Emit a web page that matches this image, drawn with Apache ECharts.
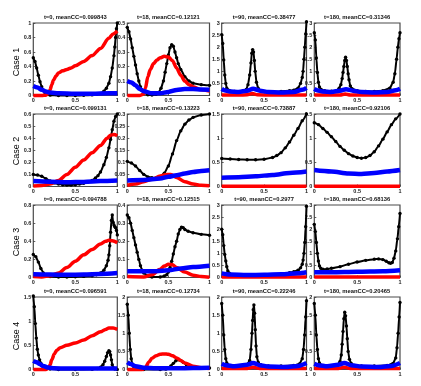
<!DOCTYPE html>
<html><head><meta charset="utf-8">
<script src="https://cdn.jsdelivr.net/npm/echarts@6/dist/echarts.min.js"></script>
<style>html,body{margin:0;padding:0;background:#fff}#c{width:421px;height:386px}</style>
</head><body><div id="c"></div>
<script>
// ---------- DATA ----------
const caseLabels = ['Case 1','Case 2','Case 3','Case 4'];
const panelTitles = [
 't=0, meanCC=0.099843','t=18, meanCC=0.12121','t=90, meanCC=0.38477','t=180, meanCC=0.31346',
 't=0, meanCC=0.099131','t=18, meanCC=0.13223','t=90, meanCC=0.73887','t=180, meanCC=0.92106',
 't=0, meanCC=0.094788','t=18, meanCC=0.12515','t=90, meanCC=0.2977','t=180, meanCC=0.68136',
 't=0, meanCC=0.096591','t=18, meanCC=0.12734','t=90, meanCC=0.22246','t=180, meanCC=0.20465'
];
const yMax =      [1, 0.5, 3, 3,   0.6, 0.3, 1.5, 1.5,  0.8, 0.4, 3, 3,   1.5, 2, 2, 2];
const yInterval = [0.2,0.1,0.5,0.5, 0.1,0.05,0.5,0.5,   0.2,0.1,0.5,0.5, 0.5,0.5,0.5,0.5];
const xTicks = [0, 0.5, 1];

// Case 1
const c1t0Black = [[0,0.52],[0.02,0.47],[0.04,0.38],[0.06,0.28],[0.08,0.19],[0.1,0.12],[0.12,0.07],[0.14,0.035],[0.16,0.015],[0.2,0.005],[0.3,0],[0.4,0],[0.5,0],[0.6,0.002],[0.7,0.008],[0.75,0.015],[0.8,0.03],[0.84,0.06],[0.87,0.1],[0.9,0.17],[0.92,0.26],[0.94,0.38],[0.96,0.55],[0.97,0.67],[0.98,0.8],[0.99,0.92],[1,1.0]];
const c1t0Red = [[0,0],[0.1,0],[0.15,0.005],[0.18,0.03],[0.2,0.08],[0.22,0.15],[0.24,0.21],[0.27,0.27],[0.3,0.31],[0.35,0.34],[0.4,0.36],[0.45,0.38],[0.5,0.41],[0.6,0.47],[0.7,0.55],[0.8,0.65],[0.9,0.79],[0.95,0.85],[1,0.89]];
const c1t0Blue = [[0,0.13],[0.05,0.11],[0.1,0.08],[0.15,0.055],[0.2,0.04],[0.3,0.03],[0.5,0.025],[0.7,0.025],[0.9,0.03],[1,0.03]];

const c1t18Black = [[0,0.47],[0.02,0.44],[0.04,0.39],[0.06,0.33],[0.08,0.27],[0.1,0.21],[0.12,0.15],[0.14,0.1],[0.16,0.06],[0.18,0.035],[0.2,0.02],[0.25,0.005],[0.3,0.003],[0.35,0.008],[0.38,0.02],[0.41,0.05],[0.44,0.1],[0.46,0.16],[0.48,0.22],[0.5,0.28],[0.52,0.33],[0.54,0.35],[0.56,0.34],[0.58,0.3],[0.6,0.26],[0.62,0.22],[0.65,0.18],[0.7,0.13],[0.75,0.1],[0.8,0.085],[0.9,0.075],[1,0.07]];
const c1t18Red = [[0,0],[0.15,0],[0.2,0.01],[0.22,0.05],[0.25,0.13],[0.28,0.18],[0.32,0.22],[0.36,0.245],[0.4,0.26],[0.45,0.27],[0.5,0.265],[0.55,0.24],[0.6,0.19],[0.65,0.14],[0.7,0.1],[0.75,0.075],[0.8,0.06],[0.9,0.04],[1,0.03]];
const c1t18Blue = [[0,0.1],[0.05,0.09],[0.1,0.07],[0.15,0.045],[0.2,0.03],[0.3,0.015],[0.4,0.015],[0.5,0.025],[0.6,0.038],[0.7,0.044],[0.8,0.045],[0.9,0.042],[1,0.04]];

const c1t90Black = [[0,2.52],[0.012,2.15],[0.024,1.47],[0.036,0.85],[0.048,0.5],[0.06,0.3],[0.08,0.22],[0.1,0.19],[0.15,0.17],[0.2,0.16],[0.25,0.17],[0.29,0.25],[0.31,0.45],[0.33,0.85],[0.345,1.35],[0.355,1.75],[0.365,1.9],[0.375,1.8],[0.385,1.45],[0.395,1.0],[0.41,0.55],[0.43,0.3],[0.46,0.2],[0.5,0.16],[0.6,0.15],[0.7,0.17],[0.8,0.2],[0.85,0.22],[0.9,0.3],[0.93,0.5],[0.95,0.75],[0.96,1.0],[0.97,1.5],[0.98,2.0],[0.99,2.55],[1,3.05]];
const c1t90Red = [[0,0.02],[0.2,0.02],[0.3,0.03],[0.36,0.08],[0.42,0.03],[0.6,0.02],[1,0.02]];
const c1t90Blue = [[0,0.27],[0.03,0.22],[0.1,0.17],[0.2,0.15],[0.3,0.2],[0.37,0.28],[0.45,0.2],[0.55,0.14],[0.7,0.12],[0.85,0.14],[0.95,0.24],[1,0.32]];

const c1t180Black = [[0,2.6],[0.012,2.3],[0.024,1.55],[0.036,0.95],[0.048,0.55],[0.06,0.35],[0.08,0.25],[0.12,0.2],[0.2,0.18],[0.26,0.2],[0.29,0.3],[0.31,0.45],[0.325,0.7],[0.335,0.95],[0.345,1.2],[0.355,1.45],[0.365,1.58],[0.375,1.45],[0.385,1.2],[0.395,0.9],[0.405,0.65],[0.42,0.4],[0.44,0.28],[0.5,0.2],[0.6,0.17],[0.7,0.17],[0.8,0.2],[0.88,0.3],[0.92,0.55],[0.94,0.9],[0.96,1.5],[0.975,2.0],[0.988,2.35],[1,2.6]];
const c1t180Red = [[0,0.02],[0.3,0.02],[0.36,0.06],[0.42,0.02],[1,0.02]];
const c1t180Blue = [[0,0.27],[0.03,0.22],[0.1,0.17],[0.2,0.15],[0.3,0.2],[0.37,0.26],[0.45,0.2],[0.55,0.14],[0.7,0.12],[0.85,0.14],[0.95,0.22],[1,0.28]];

// Case 2
const c2t0Black = [[0,0.1],[0.05,0.095],[0.1,0.085],[0.15,0.065],[0.2,0.045],[0.25,0.03],[0.3,0.02],[0.35,0.015],[0.4,0.012],[0.45,0.012],[0.5,0.015],[0.55,0.02],[0.6,0.027],[0.65,0.037],[0.7,0.05],[0.74,0.07],[0.77,0.09],[0.8,0.12],[0.84,0.18],[0.87,0.24],[0.9,0.32],[0.92,0.39],[0.94,0.47],[0.96,0.54],[0.98,0.58],[1,0.6]];
const c2t0Red = [[0,0.005],[0.1,0.008],[0.2,0.02],[0.3,0.05],[0.4,0.1],[0.5,0.16],[0.6,0.22],[0.7,0.28],[0.8,0.34],[0.88,0.4],[0.92,0.425],[0.96,0.43],[1,0.42]];
const c2t0Blue = [[0,0.045],[0.2,0.04],[0.4,0.035],[0.6,0.038],[0.8,0.045],[1,0.05]];

const c2t18Black = [[0,0.104],[0.05,0.097],[0.1,0.085],[0.15,0.066],[0.2,0.05],[0.25,0.04],[0.3,0.036],[0.35,0.035],[0.4,0.04],[0.45,0.055],[0.5,0.085],[0.55,0.135],[0.6,0.19],[0.65,0.23],[0.7,0.258],[0.75,0.275],[0.8,0.286],[0.9,0.296],[1,0.3]];
const c2t18Red = [[0,0.005],[0.1,0.01],[0.2,0.02],[0.3,0.03],[0.4,0.043],[0.48,0.05],[0.53,0.05],[0.6,0.037],[0.7,0.02],[0.8,0.01],[0.9,0.005],[1,0.003]];
const c2t18Blue = [[0,0.025],[0.2,0.027],[0.4,0.033],[0.5,0.04],[0.6,0.047],[0.7,0.054],[0.8,0.06],[0.9,0.064],[1,0.067]];

const c2t90Black = [[0,0.58],[0.1,0.57],[0.2,0.56],[0.3,0.555],[0.4,0.555],[0.5,0.565],[0.6,0.6],[0.65,0.64],[0.7,0.7],[0.75,0.8],[0.8,0.92],[0.85,1.06],[0.9,1.2],[0.95,1.36],[1,1.5]];
const c2t90Red = [[0,0.005],[0.5,0.005],[1,0.005]];
const c2t90Blue = [[0,0.18],[0.2,0.19],[0.4,0.21],[0.6,0.24],[0.8,0.28],[1,0.31]];

const c2t180Black = [[0,1.32],[0.05,1.28],[0.1,1.2],[0.15,1.12],[0.2,1.03],[0.25,0.93],[0.3,0.83],[0.35,0.75],[0.4,0.68],[0.45,0.63],[0.5,0.6],[0.55,0.585],[0.6,0.6],[0.65,0.64],[0.7,0.72],[0.75,0.84],[0.8,0.98],[0.85,1.13],[0.9,1.28],[0.95,1.4],[1,1.5]];
const c2t180Red = [[0,0.005],[0.5,0.005],[1,0.005]];
const c2t180Blue = [[0,0.34],[0.2,0.31],[0.4,0.27],[0.55,0.26],[0.7,0.28],[0.85,0.31],[1,0.34]];

// Case 3
const c3t0Black = [[0,0.255],[0.03,0.23],[0.06,0.17],[0.09,0.1],[0.12,0.05],[0.15,0.025],[0.2,0.01],[0.3,0.005],[0.4,0.005],[0.5,0.008],[0.6,0.012],[0.7,0.02],[0.75,0.03],[0.8,0.05],[0.84,0.08],[0.87,0.13],[0.89,0.19],[0.9,0.25],[0.91,0.35],[0.92,0.5],[0.93,0.63],[0.94,0.69],[0.95,0.61],[0.96,0.58],[0.97,0.56],[0.98,0.55],[0.99,0.52],[1,0.47]];
const c3t0Red = [[0,0.01],[0.1,0.005],[0.2,0.02],[0.3,0.05],[0.4,0.11],[0.5,0.18],[0.6,0.25],[0.7,0.31],[0.8,0.37],[0.86,0.4],[0.9,0.41],[0.94,0.405],[1,0.385]];
const c3t0Blue = [[0,0.035],[0.2,0.033],[0.4,0.03],[0.6,0.033],[0.8,0.04],[1,0.05]];

const c3t18Black = [[0,0.345],[0.02,0.33],[0.04,0.3],[0.06,0.26],[0.08,0.22],[0.1,0.18],[0.12,0.14],[0.14,0.1],[0.16,0.065],[0.18,0.04],[0.2,0.025],[0.25,0.008],[0.3,0.003],[0.4,0.003],[0.45,0.008],[0.48,0.015],[0.5,0.03],[0.52,0.055],[0.54,0.09],[0.56,0.13],[0.58,0.17],[0.6,0.2],[0.62,0.24],[0.64,0.265],[0.66,0.278],[0.68,0.275],[0.7,0.265],[0.74,0.255],[0.8,0.247],[0.9,0.238],[1,0.233]];
const c3t18Red = [[0,0.005],[0.2,0.003],[0.3,0.015],[0.4,0.045],[0.45,0.063],[0.5,0.073],[0.55,0.07],[0.6,0.055],[0.7,0.03],[0.8,0.013],[0.9,0.005],[1,0.002]];
const c3t18Blue = [[0,0.035],[0.2,0.035],[0.35,0.035],[0.5,0.04],[0.65,0.05],[0.8,0.058],[1,0.065]];

const c3t90Black = [[0,2.0],[0.012,1.77],[0.024,1.32],[0.036,0.95],[0.048,0.68],[0.06,0.45],[0.072,0.27],[0.09,0.18],[0.12,0.13],[0.2,0.1],[0.3,0.09],[0.4,0.09],[0.5,0.1],[0.6,0.12],[0.7,0.15],[0.8,0.2],[0.85,0.24],[0.9,0.3],[0.93,0.4],[0.95,0.55],[0.96,0.72],[0.97,1.0],[0.98,1.45],[0.99,2.1],[1,2.95]];
const c3t90Red = [[0,0.02],[0.5,0.02],[1,0.02]];
const c3t90Blue = [[0,0.17],[0.1,0.12],[0.3,0.1],[0.5,0.11],[0.7,0.13],[0.9,0.18],[1,0.22]];

const c3t180Black = [[0,2.2],[0.012,1.9],[0.024,1.45],[0.036,1.0],[0.048,0.68],[0.06,0.48],[0.075,0.38],[0.1,0.34],[0.15,0.35],[0.2,0.38],[0.3,0.45],[0.4,0.55],[0.5,0.64],[0.6,0.71],[0.7,0.76],[0.75,0.77],[0.8,0.74],[0.84,0.67],[0.87,0.61],[0.89,0.59],[0.91,0.62],[0.93,0.8],[0.95,1.1],[0.97,1.6],[0.985,2.1],[1,2.65]];
const c3t180Red = [[0,0.02],[0.5,0.02],[1,0.02]];
const c3t180Blue = [[0,0.22],[0.2,0.22],[0.5,0.24],[0.8,0.26],[1,0.3]];

// Case 4
const c4t0Black = [[0,1.52],[0.012,1.3],[0.024,0.95],[0.036,0.65],[0.048,0.42],[0.06,0.3],[0.075,0.2],[0.09,0.13],[0.11,0.07],[0.14,0.03],[0.2,0.01],[0.3,0],[0.5,0],[0.7,0.005],[0.76,0.02],[0.8,0.05],[0.83,0.1],[0.85,0.17],[0.87,0.27],[0.885,0.35],[0.9,0.39],[0.91,0.37],[0.92,0.3],[0.93,0.2],[0.94,0.1],[0.95,0.04],[0.97,0.01],[1,0]];
const c4t0Red = [[0,0],[0.15,0],[0.18,0.03],[0.2,0.1],[0.22,0.2],[0.25,0.32],[0.28,0.4],[0.32,0.45],[0.4,0.5],[0.5,0.55],[0.6,0.61],[0.7,0.7],[0.8,0.78],[0.86,0.83],[0.9,0.86],[0.95,0.86],[1,0.83]];
const c4t0Blue = [[0,0.18],[0.04,0.15],[0.08,0.11],[0.12,0.07],[0.18,0.04],[0.25,0.025],[0.4,0.02],[0.7,0.02],[1,0.02]];

const c4t18Black = [[0,1.8],[0.012,1.5],[0.024,1.0],[0.036,0.55],[0.048,0.3],[0.06,0.15],[0.08,0.07],[0.12,0.02],[0.2,0],[0.4,0],[0.47,0.01],[0.5,0.04],[0.53,0.1],[0.56,0.17],[0.59,0.24],[0.62,0.27],[0.65,0.25],[0.68,0.2],[0.72,0.13],[0.78,0.07],[0.85,0.05],[0.92,0.04],[1,0.04]];
const c4t18Red = [[0,0],[0.18,0],[0.22,0.05],[0.26,0.2],[0.3,0.31],[0.35,0.38],[0.4,0.42],[0.45,0.43],[0.5,0.42],[0.55,0.38],[0.6,0.32],[0.65,0.25],[0.7,0.18],[0.8,0.09],[0.9,0.05],[1,0.03]];
const c4t18Blue = [[0,0.2],[0.04,0.15],[0.1,0.09],[0.2,0.05],[0.35,0.035],[0.6,0.035],[0.8,0.04],[1,0.045]];

const c4t90Black = [[0,1.82],[0.012,1.5],[0.024,0.95],[0.036,0.55],[0.048,0.3],[0.06,0.18],[0.08,0.12],[0.15,0.1],[0.25,0.1],[0.3,0.14],[0.33,0.25],[0.345,0.55],[0.357,1.0],[0.365,1.35],[0.372,1.65],[0.38,1.78],[0.388,1.55],[0.396,1.1],[0.405,0.65],[0.415,0.35],[0.43,0.2],[0.46,0.13],[0.55,0.1],[0.7,0.1],[0.85,0.11],[0.92,0.16],[0.95,0.3],[0.965,0.55],[0.978,0.95],[0.99,1.45],[1,1.9]];
const c4t90Red = [[0,0.03],[0.3,0.03],[0.37,0.06],[0.45,0.03],[1,0.03]];
const c4t90Blue = [[0,0.16],[0.05,0.12],[0.15,0.09],[0.3,0.13],[0.37,0.18],[0.45,0.12],[0.55,0.08],[0.75,0.07],[0.9,0.1],[1,0.18]];

const c4t180Black = [[0,1.82],[0.012,1.5],[0.024,0.95],[0.036,0.55],[0.048,0.3],[0.06,0.18],[0.08,0.12],[0.15,0.1],[0.22,0.1],[0.27,0.13],[0.3,0.22],[0.315,0.4],[0.325,0.7],[0.335,1.05],[0.345,1.4],[0.355,1.58],[0.365,1.48],[0.375,1.2],[0.385,0.85],[0.395,0.5],[0.41,0.28],[0.43,0.17],[0.47,0.11],[0.55,0.1],[0.7,0.1],[0.85,0.11],[0.92,0.17],[0.95,0.32],[0.965,0.6],[0.978,1.0],[0.99,1.45],[1,1.85]];
const c4t180Red = [[0,0.03],[0.28,0.03],[0.35,0.06],[0.42,0.03],[1,0.03]];
const c4t180Blue = [[0,0.16],[0.05,0.12],[0.15,0.09],[0.28,0.13],[0.35,0.18],[0.43,0.12],[0.55,0.08],[0.75,0.07],[0.9,0.1],[1,0.18]];

const blackSeries = [c1t0Black,c1t18Black,c1t90Black,c1t180Black, c2t0Black,c2t18Black,c2t90Black,c2t180Black,
  c3t0Black,c3t18Black,c3t90Black,c3t180Black, c4t0Black,c4t18Black,c4t90Black,c4t180Black];
const redSeries = [c1t0Red,c1t18Red,c1t90Red,c1t180Red, c2t0Red,c2t18Red,c2t90Red,c2t180Red,
  c3t0Red,c3t18Red,c3t90Red,c3t180Red, c4t0Red,c4t18Red,c4t90Red,c4t180Red];
const blueSeries = [c1t0Blue,c1t18Blue,c1t90Blue,c1t180Blue, c2t0Blue,c2t18Blue,c2t90Blue,c2t180Blue,
  c3t0Blue,c3t18Blue,c3t90Blue,c3t180Blue, c4t0Blue,c4t18Blue,c4t90Blue,c4t180Blue];

// ---------- LAYOUT ----------
const colLeft = [33.3, 127.3, 221.7, 314.3];
const colWidth = [84, 82.2, 84.8, 85.7];
const rowTop = [23, 114, 205, 297];
const rowHeight = 72.5;
const caseCenterY = [62, 151, 242, 336];
const FONT = 'Liberation Sans, Arial, sans-serif';

const grid = [], xAxis = [], yAxis = [], series = [], title = [], graphic = [];
for (let r = 0; r < 4; r++) {
  for (let c = 0; c < 4; c++) {
    const i = r*4 + c;
    grid.push({left: colLeft[c], top: rowTop[r], width: colWidth[c], height: rowHeight,
      show: true, borderColor: '#4a4a4a', borderWidth: 1.2, backgroundColor: 'transparent', containLabel: false});
    xAxis.push({type: 'value', gridIndex: i, min: xTicks[0], max: xTicks[xTicks.length-1], interval: 0.5,
      axisLine: {show: false}, splitLine: {show: false},
      axisTick: {show: true, inside: true, length: 2, lineStyle: {color: '#3a3a3a', width: 0.8}},
      axisLabel: {fontSize: 5.5, color: '#222', margin: 2, fontFamily: FONT, fontWeight: 'bold',
        formatter: v => String(v)}});
    yAxis.push({type: 'value', gridIndex: i, min: 0, max: yMax[i], interval: yInterval[i],
      axisLine: {show: false}, splitLine: {show: false},
      axisTick: {show: true, inside: true, length: 2, lineStyle: {color: '#3a3a3a', width: 0.8}},
      axisLabel: {fontSize: 5.5, color: '#222', margin: 2, fontFamily: FONT, fontWeight: 'bold',
        formatter: v => String(+v.toFixed(3))}});
    title.push({text: panelTitles[i], left: colLeft[c] + colWidth[c]/2, top: rowTop[r] - 8.5,
      textAlign: 'center', padding: 0,
      textStyle: {fontSize: 5.8, fontWeight: 'bold', color: '#111', fontFamily: FONT}});
    series.push({type: 'line', xAxisIndex: i, yAxisIndex: i, data: blackSeries[i], clip: false,
      smooth: 0.2, smoothMonotone: 'x', showSymbol: true, showAllSymbol: true, symbol: 'circle', symbolSize: 3.4,
      lineStyle: {color: '#000', width: 2}, itemStyle: {color: '#000'}, animation: false, z: 2});
    series.push({type: 'line', xAxisIndex: i, yAxisIndex: i, data: redSeries[i], clip: false,
      smooth: 0.3, smoothMonotone: 'x', showSymbol: false,
      lineStyle: {color: '#ff0000', width: 3.5}, itemStyle: {color: '#ff0000'}, animation: false, z: 3});
    series.push({type: 'line', xAxisIndex: i, yAxisIndex: i, data: blueSeries[i], clip: false,
      smooth: 0.3, smoothMonotone: 'x', showSymbol: false,
      lineStyle: {color: '#0000ff', width: 4.5}, itemStyle: {color: '#0000ff'}, animation: false, z: 4});
  }
  graphic.push({type: 'text', x: 17, y: caseCenterY[r], rotation: Math.PI/2,
    style: {text: caseLabels[r], fill: '#000', font: '9px ' + FONT,
      align: 'center', verticalAlign: 'middle', textAlign: 'center', textVerticalAlign: 'middle'}});
}

const chart = echarts.init(document.getElementById('c'), null, {renderer: 'canvas'});
chart.setOption({animation: false, backgroundColor: '#fff', title, grid, xAxis, yAxis, series, graphic});
</script></body></html>
